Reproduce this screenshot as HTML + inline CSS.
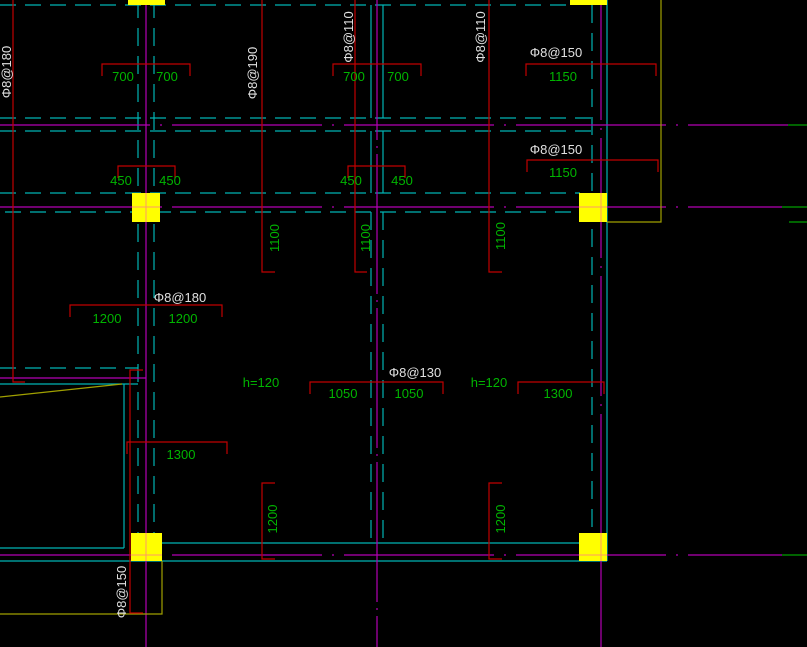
<!DOCTYPE html>
<html><head><style>html,body{margin:0;padding:0;background:#000;width:807px;height:647px;overflow:hidden}svg{display:block}</style></head>
<body>
<svg width="807" height="647" viewBox="0 0 807 647" xmlns="http://www.w3.org/2000/svg" font-family="Liberation Sans Narrow, Liberation Sans, sans-serif">
<rect width="807" height="647" fill="#000"/>
<g stroke="#00b4b4" stroke-width="1.2" fill="none">
 <!-- dashed horizontal -->
 <g stroke-dasharray="16,9">
  <line x1="0" y1="5" x2="570" y2="5"/>
  <line x1="0" y1="118" x2="592" y2="118"/>
  <line x1="0" y1="131" x2="592" y2="131"/>
  <line x1="0" y1="193" x2="580" y2="193"/>
  <line x1="5" y1="212" x2="580" y2="212"/>
  <line x1="0" y1="368" x2="138" y2="368"/>
 </g>
 <!-- dashed verticals -->
 <g stroke-dasharray="18,10">
  <line x1="138" y1="0" x2="138" y2="533"/>
  <line x1="154" y1="0" x2="154" y2="533"/>
  <line x1="371" y1="212" x2="371" y2="543"/>
  <line x1="383" y1="212" x2="383" y2="543"/>
  <line x1="592" y1="5" x2="592" y2="533"/>
 </g>
 <line x1="371" y1="5" x2="371" y2="118"/>
 <line x1="383" y1="5" x2="383" y2="118"/>
 <line x1="371" y1="131" x2="371" y2="193"/>
 <line x1="383" y1="131" x2="383" y2="193"/>
 <line x1="607" y1="0" x2="607" y2="561"/>
 <line x1="0" y1="384" x2="138" y2="384"/>
 <line x1="124" y1="384" x2="124" y2="548"/>
 <line x1="0" y1="548" x2="124" y2="548"/>
 <line x1="162" y1="543" x2="592" y2="543"/>
 <line x1="0" y1="561" x2="607" y2="561"/>
</g>
<g stroke="#b400b4" stroke-width="1.2" fill="none">
 <line x1="146" y1="0" x2="146" y2="647"/>
 <line x1="377" y1="0" x2="377" y2="647" stroke-dasharray="140,6,2,6"/>
 <line x1="601" y1="0" x2="601" y2="647" stroke-dasharray="120,8,2,8"/>
 <line x1="0" y1="125" x2="788" y2="125" stroke-dasharray="150,10,2,10"/>
 <line x1="0" y1="207" x2="782" y2="207" stroke-dasharray="150,10,2,10"/>
 <line x1="0" y1="378" x2="146" y2="378"/>
 <line x1="0" y1="555" x2="782" y2="555" stroke-dasharray="150,10,2,10"/>
</g>
<g stroke="#00a000" stroke-width="1.2">
 <line x1="788" y1="125" x2="807" y2="125"/>
 <line x1="782" y1="207" x2="807" y2="207"/>
 <line x1="789" y1="222" x2="807" y2="222"/>
 <line x1="782" y1="555" x2="807" y2="555"/>
</g>
<g stroke="#a0a000" stroke-width="1.2" fill="none">
 <polyline points="607,222 661,222 661,0"/>
 <polyline points="0,614 162,614 162,561"/>
 <line x1="0" y1="397" x2="122" y2="384"/>
</g>
<g fill="#ffff00">
 <rect x="128" y="0" width="37" height="5"/>
 <rect x="570" y="0" width="37" height="5"/>
 <rect x="132" y="193" width="28" height="29"/>
 <rect x="579" y="193" width="28" height="29"/>
 <rect x="131" y="533" width="31" height="28"/>
 <rect x="579" y="533" width="28" height="28"/>
</g>
<g stroke="#ff8080" stroke-width="1" opacity="0.8">
 <line x1="146" y1="193" x2="146" y2="222"/><line x1="132" y1="207" x2="160" y2="207"/>
 <line x1="146" y1="533" x2="146" y2="561"/><line x1="131" y1="555" x2="162" y2="555"/>
 <line x1="601" y1="193" x2="601" y2="222"/><line x1="579" y1="207" x2="607" y2="207"/>
 <line x1="601" y1="533" x2="601" y2="561"/><line x1="579" y1="555" x2="607" y2="555"/>
</g>
<g stroke="#c00000" stroke-width="1.2" fill="none">
 <polyline points="13,0 13,382 25,382"/>
 <polyline points="262,0 262,272 275,272"/>
 <polyline points="355,0 355,272 367,272"/>
 <polyline points="489,0 489,272 502,272"/>
 <polyline points="143,370 130,370 130,613 143,613"/>
 <polyline points="275,483 262,483 262,559 275,559"/>
 <polyline points="502,483 489,483 489,559 502,559"/>
 <polyline points="102,76 102,64 190,64 190,76"/>
 <polyline points="333,76 333,64 421,64 421,76"/>
 <polyline points="526,76 526,64 656,64 656,76"/>
 <polyline points="118,178 118,166 175,166 175,178"/>
 <polyline points="348,178 348,166 405,166 405,178"/>
 <polyline points="527,172 527,160 658,160 658,172"/>
 <polyline points="70,317 70,305 222,305 222,317"/>
 <polyline points="310,394 310,382 443,382 443,394"/>
 <polyline points="518,394 518,382 604,382 604,394"/>
 <polyline points="127,454 127,442 227,442 227,454"/>
</g>
<g fill="#00b400" font-size="13" text-anchor="middle">
 <text x="123" y="81">700</text><text x="167" y="81">700</text>
 <text x="354" y="81">700</text><text x="398" y="81">700</text>
 <text x="563" y="81">1150</text>
 <text x="121" y="185">450</text><text x="170" y="185">450</text>
 <text x="351" y="185">450</text><text x="402" y="185">450</text>
 <text x="563" y="177">1150</text>
 <text x="107" y="323">1200</text><text x="183" y="323">1200</text>
 <text x="343" y="398">1050</text><text x="409" y="398">1050</text>
 <text x="261" y="387">h=120</text><text x="489" y="387">h=120</text>
 <text x="558" y="398">1300</text>
 <text x="181" y="459">1300</text>
 <text transform="translate(279,238) rotate(-90)">1100</text>
 <text transform="translate(370,238) rotate(-90)">1100</text>
 <text transform="translate(505,236) rotate(-90)">1100</text>
 <text transform="translate(277,519) rotate(-90)">1200</text>
 <text transform="translate(505,519) rotate(-90)">1200</text>
</g>
<g fill="#e0e0e0" font-size="13" text-anchor="middle">
 <text x="556" y="57">Φ8@150</text>
 <text x="556" y="154">Φ8@150</text>
 <text x="180" y="302">Φ8@180</text>
 <text x="415" y="377">Φ8@130</text>
 <text transform="translate(11,72) rotate(-90)">Φ8@180</text>
 <text transform="translate(257,73) rotate(-90)">Φ8@190</text>
 <text transform="translate(353,37) rotate(-90)">Φ8@110</text>
 <text transform="translate(485,37) rotate(-90)">Φ8@110</text>
 <text transform="translate(126,592) rotate(-90)">Φ8@150</text>
</g>
</svg>
</body></html>
